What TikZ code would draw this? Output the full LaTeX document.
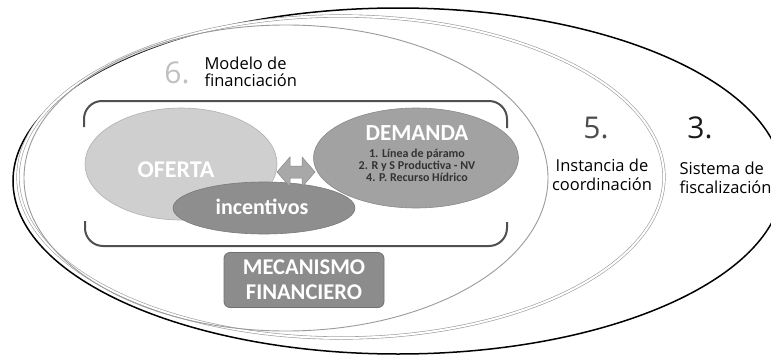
\documentclass[tikz,border=0pt]{standalone}
\usepackage{fontspec}
\setmainfont{Open Sans}
\newfontfamily\calibri{Carlito}
\usetikzlibrary{shapes.geometric}
\usepackage{xcolor}
\definecolor{zonegray}{HTML}{9A9A9A}
\definecolor{ofertagray}{HTML}{CFCFCF}
\definecolor{demandagray}{HTML}{A2A2A2}
\definecolor{incentgray}{HTML}{8E8E8E}
\definecolor{mecangray}{HTML}{8C8C8C}
\definecolor{arrowgray}{HTML}{A8A8A8}
\definecolor{bracketgray}{HTML}{505050}

\begin{document}
\begin{tikzpicture}[x=1pt, y=-1pt,
  blob/.style={ellipse, fill=#1, draw=#1!85!black, line width=0.6pt, inner sep=0pt},
  bracket/.style={draw=bracketgray, line width=2pt, rounded corners=18pt},
  whitetext/.style={text=white, font=\calibri\bfseries\fontsize{#1}{#1}\selectfont},
  hand/.style={font=\fontsize{16.5}{#1}\selectfont},
  number/.style={font=\fontsize{30}{30}\selectfont}]
  \clip (0,0) rectangle (771,356);
  \fill[white] (0,0) rectangle (771,356);
  % nested zones 3, 5 and 6
  \draw[black, line width=1.5pt] (398,181) ellipse [x radius=385, y radius=173];
  \draw[zonegray, double=white, double distance=2pt, line width=0.6pt] (341,177) ellipse [x radius=323, y radius=161];
  \draw[zonegray, line width=0.9pt] (286,178) ellipse [x radius=262, y radius=153];
  % brackets
  \draw[bracket] (84,127) -- (84,101) -- (507,101) -- (507,128);
  \draw[bracket] (85,221) -- (85,246) -- (507,246) -- (507,222);
  % supply and demand
  \node[blob=ofertagray, minimum width=192pt, minimum height=112pt] (oferta) at (181,164) {};
  \node[whitetext=24] (ofertalabel) at (176,170) {OFERTA};
  \node[blob=demandagray, minimum width=205pt, minimum height=100pt] (demanda) at (416,158) {};
  \node[whitetext=23] (demandalabel) at (417,133) {DEMANDA};
  \node[font=\calibri\bfseries\fontsize{12}{12}\selectfont, text=black!80, align=center] (demandalist) at (417,165)
    {1. Línea de páramo\\2. R y S Productiva - NV\\4. P. Recurso Hídrico};
  \node[blob=incentgray, minimum width=182pt, minimum height=52pt] (incentivos) at (264,208) {};
  \node[whitetext=22] (incentlabel) at (262,207) {incentivos};
  % two-way arrow between them
  \filldraw[fill=arrowgray, draw=arrowgray!80!black, line width=0.5pt]
    (277,172) -- (290,157) -- (290,166) -- (302,166) -- (302,157) -- (315,172)
    -- (302,187) -- (302,178) -- (290,178) -- (290,187) -- cycle;
  % financial mechanism
  \node[rectangle, rounded corners=6pt, fill=mecangray, draw=mecangray!80!black, line width=0.8pt,
    minimum width=160pt, minimum height=55pt] (mecanismo) at (304,280) {};
  \node[align=center, text=white, font=\calibri\bfseries\fontsize{22.5}{25}\selectfont] (mecanlabel) at (304,280)
    {MECANISMO\\FINANCIERO};
  % zone labels
  \node[number, text=black!25] (six) at (177,73) {6.};
  \node[hand=17, anchor=west, align=left] (modelo) at (201,72) {Modelo de\\financiación};
  \node[number, text=black!70] (five) at (596,128) {5.};
  \node[hand=19, align=center] (instancia) at (602,175) {Instancia de\\coordinación};
  \node[number, text=black!90] (three) at (700,128) {3.};
  \node[hand=19, anchor=west, align=left] (sistema) at (676,178) {Sistema de\\fiscalización};
\end{tikzpicture}
\end{document}
